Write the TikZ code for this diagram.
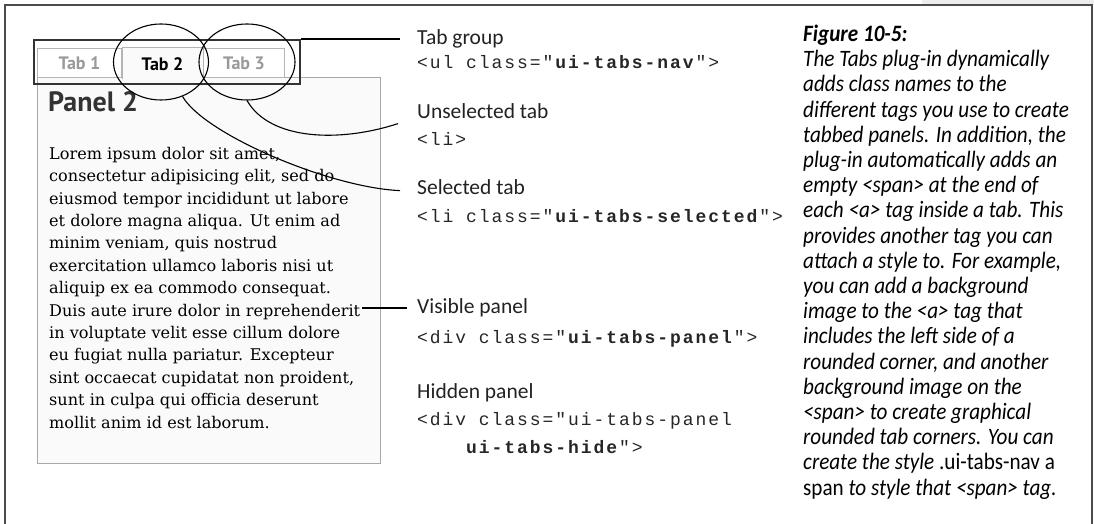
\documentclass[tikz,border=0pt]{standalone}
\usepackage{fontspec}
\setmainfont{DejaVu Serif}
\newfontfamily\lblfont{Carlito}
\newfontfamily\capfont[FakeStretch=0.9]{Carlito}
\newfontfamily\tabfont{PT Sans}
\newfontfamily\codefont[LetterSpace=10.8]{Liberation Mono}
\usetikzlibrary{positioning,shapes.geometric}
\definecolor{ink}{HTML}{222222}
\definecolor{dimtab}{HTML}{999999}
\definecolor{tabedge}{HTML}{B4B4B4}
\definecolor{panelfill}{HTML}{FAFAFA}
\definecolor{paneledge}{HTML}{A8A8A8}
\tikzset{
  pageframe/.style={draw=black!70, line width=1.5pt},
  groupbox/.style={draw=black!80, line width=1.8pt, inner sep=0pt},
  panelbox/.style={draw=paneledge, fill=panelfill, line width=1pt, inner sep=0pt},
  tabbox/.style={
    draw=tabedge, fill=white, line width=1pt, inner sep=0pt,
    minimum height=29pt, font=\tabfont\bfseries\fontsize{18}{20}\selectfont,
    text=dimtab,
  },
  seltab/.style={tabbox, draw=none, fill=panelfill, text=black, minimum height=30.5pt},
  ring/.style={ellipse, draw=black, line width=1.1pt, inner sep=0pt},
  lead/.style={draw=black, line width=1.1pt},
  hint/.style={anchor=base west, inner sep=0pt, text=ink,
    font=\lblfont\fontsize{21.5}{24}\selectfont},
  tag/.style={anchor=base west, inner sep=0pt, text=black!85,
    font=\codefont\fontsize{18}{28}\selectfont, align=left},
  body/.style={anchor=base west, inner sep=0pt, align=left, text=black,
    font=\fontsize{16.1}{22.4}\selectfont},
  caption/.style={anchor=base west, inner sep=0pt, align=left, text=black,
    font=\capfont\itshape\fontsize{23.5}{25.2}\selectfont},
}

\begin{document}
\begin{tikzpicture}[x=1pt, y=-1pt]
\useasboundingbox (0,0) rectangle (1094,524);

% page frame
\fill[black!7] (922,0) rectangle (1094,5);
\draw[pageframe] (5,524) |- (1092,5) -- (1092,524);

% panel with its tabs
\node[panelbox, anchor=north west, minimum width=343pt, minimum height=386pt] (panel) at (37,77) {};
\node[tabbox, anchor=north west, minimum width=84pt] (tabone) at (37,48) {Tab 1};
\node[seltab, anchor=north west, minimum width=80pt] (tabtwo) at (122,48) {Tab 2};
\node[tabbox, anchor=north west, minimum width=81pt] (tabthree) at (203,48) {Tab 3};
\draw[draw=tabedge, line width=1pt] (tabtwo.south west) |- (tabtwo.north east) -- (tabtwo.south east);

\node[groupbox, anchor=north west, minimum width=266pt, minimum height=44pt] (tabgroup) at (33,39) {};

\node[anchor=base west, inner sep=0pt, text=black!80,
  font=\tabfont\bfseries\fontsize{28}{30}\selectfont] (ptitle) at (48,112) {Panel 2};
% multi-line nodes sit on their last baseline
\node[body] (lorem) at (49,428) {Lorem ipsum dolor sit amet,\\
consectetur adipisicing elit, sed do\\
eiusmod tempor incididunt ut labore\\
et dolore magna aliqua. Ut enim ad\\
minim veniam, quis nostrud\\
exercitation ullamco laboris nisi ut\\
aliquip ex ea commodo consequat.\\
Duis aute irure dolor in reprehenderit\\
in voluptate velit esse cillum dolore\\
eu fugiat nulla pariatur. Excepteur\\
sint occaecat cupidatat non proident,\\
sunt in culpa qui officia deserunt\\
mollit anim id est laborum.};
\coordinate (duisend) at (362,308);

% callout rings
\node[ring, minimum width=95pt, minimum height=76pt] (ringtwo) at (161,62) {};
\node[ring, minimum width=96pt, minimum height=76pt] (ringthree) at (247,62) {};

% labels
\node[hint] (grouplbl) at (417,45) {Tab group};
\node[tag] (grouptag) at (417,69) {<ul class="\textbf{ui-tabs-nav}">};
\node[hint] (unsellbl) at (417,118) {Unselected tab};
\node[tag] (unseltag) at (417,145) {<li>};
\node[hint] (sellbl) at (417,194) {Selected tab};
\node[tag] (seltag) at (417,222) {<li class="\textbf{ui-tabs-selected}">};
\node[hint] (vislbl) at (417,313) {Visible panel};
\node[tag] (vistag) at (417,343) {<div class="\textbf{ui-tabs-panel}">};
\node[hint] (hidlbl) at (417,398) {Hidden panel};
\node[tag] (hidtag) at (417,453) {<div class="ui-tabs-panel\\
\phantom{<div}\textbf{ui-tabs-hide}">};

% leaders
\coordinate (groupend) at ([xshift=-17pt]grouplbl.west);
\coordinate (unselend) at ([xshift=-19pt, yshift=-13pt]unsellbl.west);
\coordinate (selend) at ([xshift=-17pt, yshift=-4pt]sellbl.west);
\coordinate (visend) at ([xshift=-10pt]vislbl.west);
\draw[lead] (tabgroup.north east) -- (tabgroup.north east -| groupend);
\draw[lead] (ringthree.south) .. controls +(23,40) and +(-58,19) .. (unselend);
\draw[lead] (ringtwo.-58) .. controls +(22,38) and +(-70,-3) .. (selend);
\draw[lead] (duisend) -- (duisend -| visend);

% figure caption
\node[caption] (capt) at (803,495) {\bfseries Figure 10-5:\\
The Tabs plug-in dynamically\\
adds class names to the\\
different tags you use to create\\
tabbed panels. In addition, the\\
plug-in automatically adds an\\
empty <span> at the end of\\
each <a> tag inside a tab. This\\
provides another tag you can\\
attach a style to. For example,\\
you can add a background\\
image to the <a> tag that\\
includes the left side of a\\
rounded corner, and another\\
background image on the\\
<span> to create graphical\\
rounded tab corners. You can\\
create the style {\upshape .ui-tabs-nav a}\\
{\upshape span} to style that <span> tag.};
\end{tikzpicture}
\end{document}
